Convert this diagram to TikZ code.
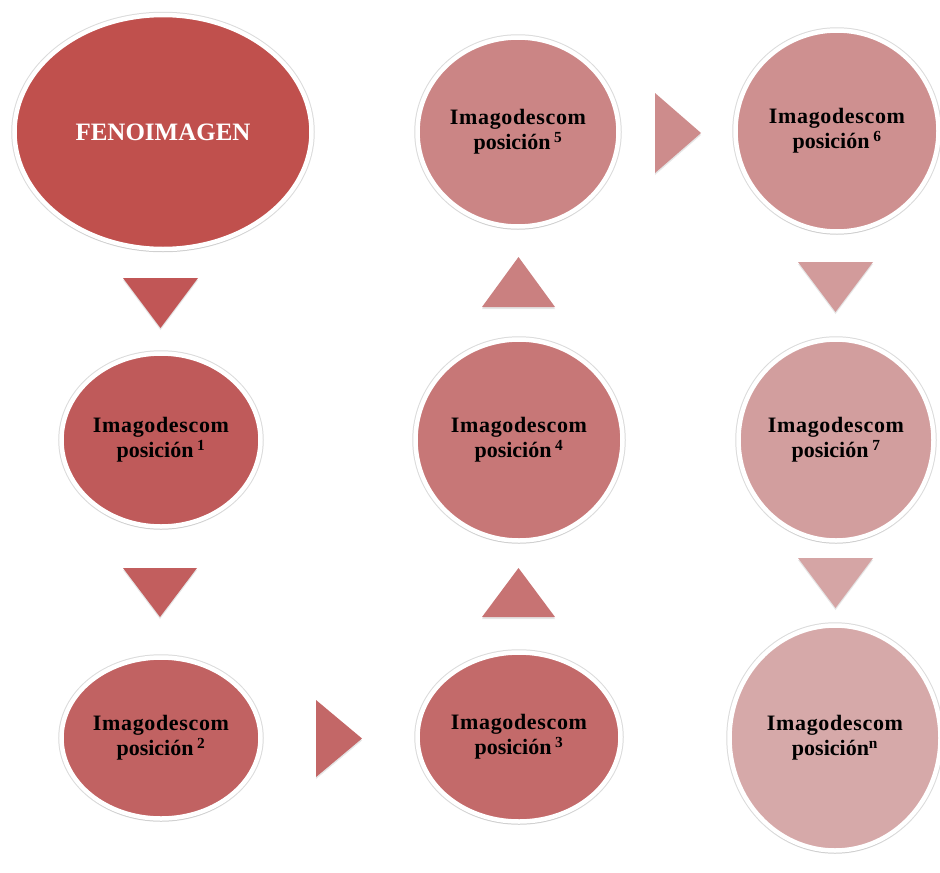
\documentclass[tikz,border=0pt]{standalone}
\usepackage{fontspec}
\setmainfont{Liberation Serif}
\usetikzlibrary{shapes.geometric,shadows,calc}
\definecolor{cF}{HTML}{C0504D}
\definecolor{c1}{HTML}{BF5A5A}
\definecolor{c2}{HTML}{C16262}
\definecolor{c3}{HTML}{C36A6A}
\definecolor{c4}{HTML}{C77777}
\definecolor{c5}{HTML}{CB8585}
\definecolor{c6}{HTML}{CE9090}
\definecolor{c7}{HTML}{D29E9E}
\definecolor{cn}{HTML}{D6A9A9}
\definecolor{t1}{HTML}{C15656}
\definecolor{t2}{HTML}{C25E5E}
\definecolor{t3}{HTML}{C36767}
\definecolor{t4}{HTML}{C77373}
\definecolor{t5}{HTML}{CA8080}
\definecolor{t6}{HTML}{CD8C8C}
\definecolor{t7}{HTML}{D29B9B}
\definecolor{t8}{HTML}{D5A5A5}
\newcommand{\imgtxt}[1]{\addfontfeature{LetterSpace=3}Imagodescom\\posición#1}
\begin{document}
\begin{tikzpicture}[x=1pt,y=-1pt,
  bubble/.style={ellipse, draw=white, line width=4.5pt, inner sep=0pt,
    font=\fontsize{22}{25}\selectfont\bfseries, align=center, text=black,
    preaction={draw=black!14, line width=6.5pt},
    drop shadow={opacity=0.18, shadow xshift=0pt, shadow yshift=-3pt}},
  chev/.style={draw=none, drop shadow={opacity=0.2, shadow xshift=0pt, shadow yshift=-2pt}}]
\useasboundingbox (0,0) rectangle (940,873);
\fill[white] (0,0) rectangle (940,873);
% nodes
\node[bubble, fill=cF, minimum width=297pt, minimum height=234pt,
  font=\fontsize{25}{28}\selectfont\bfseries, text=white] (F) at (163,132) {FENOIMAGEN};
\node[bubble, fill=c1, minimum width=199pt, minimum height=173pt] (n1) at (161,440) {\imgtxt{\,\textsuperscript{1}}};
\node[bubble, fill=c2, minimum width=199pt, minimum height=161pt] (n2) at (161,738) {\imgtxt{\,\textsuperscript{2}}};
\node[bubble, fill=c3, minimum width=203pt, minimum height=169pt] (n3) at (519,737) {\imgtxt{\,\textsuperscript{3}}};
\node[bubble, fill=c4, minimum width=207pt, minimum height=201pt] (n4) at (519,440) {\imgtxt{\,\textsuperscript{4}}};
\node[bubble, fill=c5, minimum width=201pt, minimum height=189pt] (n5) at (518,132) {\imgtxt{\,\textsuperscript{5}}};
\node[bubble, fill=c6, minimum width=203pt, minimum height=201pt] (n6) at (837,131) {\imgtxt{\,\textsuperscript{6}}};
\node[bubble, fill=c7, minimum width=195pt, minimum height=201pt] (n7) at (836,440) {\imgtxt{\,\textsuperscript{7}}};
\node[bubble, fill=cn, minimum width=211pt, minimum height=225pt] (nn) at (835,738) {\imgtxt{\textsuperscript{n}}};
% chevrons (arrows between nodes)
\coordinate (a1) at (160.5,303);
\coordinate (a2) at (160,592.5);
\coordinate (a3) at (339,738.5);
\coordinate (a4) at (518.5,592.5);
\coordinate (a5) at (518.5,282);
\coordinate (a6) at (678,133);
\coordinate (a7) at (835.5,287);
\coordinate (a8) at (835.5,583);
\fill[t1, chev] ($(a1)+(-37.5,-25)$) -- ++(75,0) -- ($(a1)+(0,25)$) -- cycle;
\fill[t2, chev] ($(a2)+(-37,-24.5)$) -- ++(74,0) -- ($(a2)+(0,24.5)$) -- cycle;
\fill[t3, chev] ($(a3)+(-23,-38.5)$) -- ($(a3)+(23,0)$) -- ($(a3)+(-23,38.5)$) -- cycle;
\fill[t4, chev] ($(a4)+(-36.5,24.5)$) -- ++(73,0) -- ($(a4)+(0,-24.5)$) -- cycle;
\fill[t5, chev] ($(a5)+(-36.5,25)$) -- ++(73,0) -- ($(a5)+(0,-25)$) -- cycle;
\fill[t6, chev] ($(a6)+(-23,-40)$) -- ($(a6)+(23,0)$) -- ($(a6)+(-23,40)$) -- cycle;
\fill[t7, chev] ($(a7)+(-37.5,-25)$) -- ++(75,0) -- ($(a7)+(0,25)$) -- cycle;
\fill[t8, chev] ($(a8)+(-37.5,-25)$) -- ++(75,0) -- ($(a8)+(0,25)$) -- cycle;
\end{tikzpicture}
\end{document}
